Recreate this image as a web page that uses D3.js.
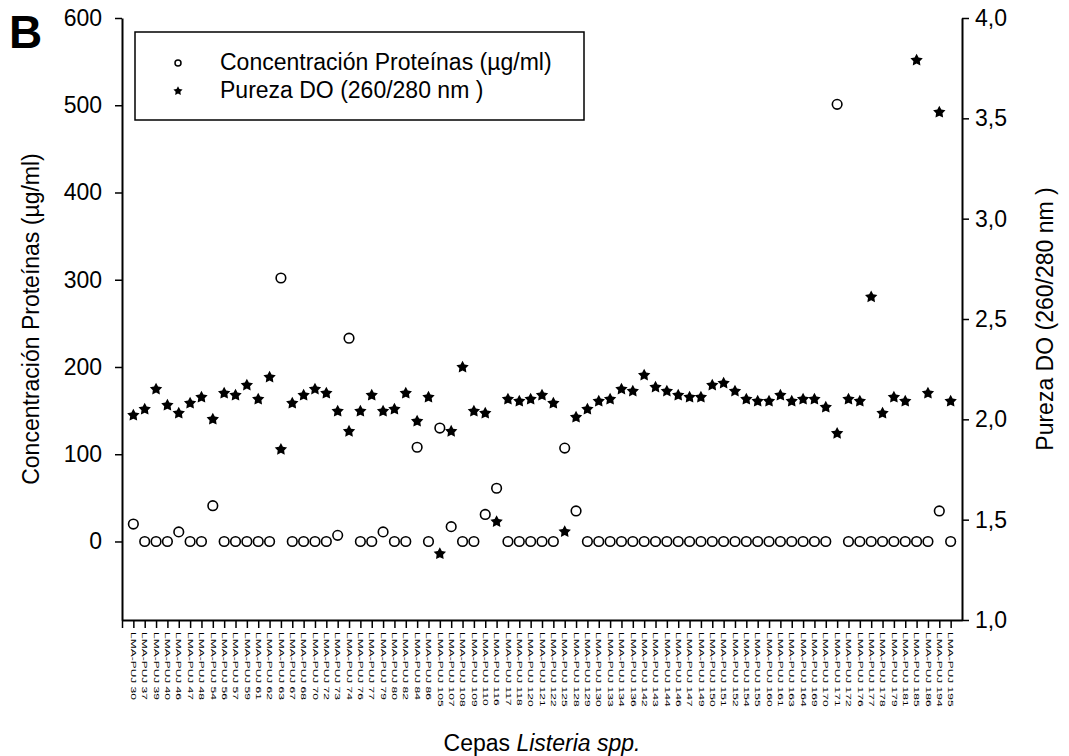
<!DOCTYPE html>
<html>
<head>
<meta charset="utf-8">
<script src="https://cdn.jsdelivr.net/npm/d3@7"></script>
<style>
  body { margin: 0; background: #fff; }
  text { font-family: Arial, "Liberation Sans", sans-serif; fill: #000; }
</style>
</head>
<body>
<svg id="chart" width="1069" height="756"></svg>
<script>
// strain codes (LMA-PUJ xx)
const strains = ["30","37","39","40","46","47","48","54","56","57","59","61","62","63","67","68","70","72","73","74",
  "76","77","79","80","82","84","86","105","107","108","109","110","116","117","118","120","121","122","125","128",
  "129","130","133","134","136","142","143","144","146","147","149","150","151","152","154","155","160","161","163","164",
  "169","170","171","172","176","177","178","179","181","185","186","194","195"];

// protein concentration (µg/ml), left axis
const proteina = [20,0,0,0,11,0,0,41,0,0,0,0,0,302,0,0,0,0,7,233,
  0,0,11,0,0,108,0,130,17,0,0,31,61,0,0,0,0,0,107,35,
  0,0,0,0,0,0,0,0,0,0,0,0,0,0,0,0,0,0,0,0,
  0,0,501,0,0,0,0,0,0,0,0,35,0];

// purity OD 260/280, right axis
const pureza = [2.02,2.05,2.15,2.07,2.03,2.08,2.11,2.00,2.13,2.12,2.17,2.10,2.21,1.85,2.08,2.12,2.15,2.13,2.04,1.94,
  2.04,2.12,2.04,2.05,2.13,1.99,2.11,1.33,1.94,2.26,2.04,2.03,1.49,2.10,2.09,2.10,2.12,2.08,1.44,2.01,
  2.05,2.09,2.10,2.15,2.14,2.22,2.16,2.14,2.12,2.11,2.11,2.17,2.18,2.14,2.10,2.09,2.09,2.12,2.09,2.10,
  2.10,2.06,1.93,2.10,2.09,2.61,2.03,2.11,2.09,3.79,2.13,3.53,2.09];

const leftTicks = [0,100,200,300,400,500,600];
const rightTicks = [1.0,1.5,2.0,2.5,3.0,3.5,4.0];

const svg = d3.select("#chart"),
  margin = { top: 18, right: 107, bottom: 136, left: 122 },
  width = +svg.attr("width") - margin.left - margin.right,
  height = +svg.attr("height") - margin.top - margin.bottom;

const g = svg.append("g").attr("transform", `translate(${margin.left},${margin.top})`);

const x = d3.scaleLinear().domain([0, strains.length + 1]).range([0, width]);
const yL = d3.scaleLinear().domain([-90, 600]).range([height, 0]);
const yR = d3.scaleLinear().domain([1, 4]).range([height, 0]);

const fontSize = "23px";

// fat five-point star
function star(R) {
  return d3.lineRadial().curve(d3.curveLinearClosed)(
    d3.range(10).map(k => [k * Math.PI / 5, k % 2 ? R * 0.52 : R])
  );
}

// axes
const axL = g.append("g").call(d3.axisLeft(yL).tickValues(leftTicks).tickSize(7).tickSizeOuter(0).tickPadding(13));
const axR = g.append("g").attr("transform", `translate(${width},0)`)
  .call(d3.axisRight(yR).tickValues(rightTicks).tickSize(7).tickSizeOuter(0).tickPadding(6)
    .tickFormat(d => d3.format(".1f")(d).replace(".", ",")));
const axB = g.append("g").attr("transform", `translate(0,${height})`)
  .call(d3.axisBottom(x).tickValues(d3.range(0, strains.length + 1)).tickSize(8).tickSizeOuter(0)
    .tickFormat(i => i === 0 ? "" : "LMA-PUJ " + strains[i - 1]));

[axL, axR, axB].forEach(a => {
  a.select(".domain").attr("stroke", "#000").attr("stroke-width", 2);
  a.selectAll(".tick line").attr("stroke", "#000").attr("stroke-width", 1.5);
});
axL.selectAll("text").attr("font-size", fontSize).attr("font-family", null);
axR.selectAll("text").attr("font-size", fontSize).attr("font-family", null);
axB.selectAll("text")
  .attr("font-size", "8px").attr("font-family", null)
  .attr("x", 0).attr("y", 0).attr("dy", "0.35em")
  .attr("text-anchor", "start")
  .attr("transform", "translate(0,12) rotate(90) scale(1.5,1)");
svg.selectAll(".domain").attr("fill", "none");

// data marks
g.selectAll("circle.prot")
  .data(proteina)
  .enter()
  .append("circle")
  .attr("class", "prot")
  .attr("cx", (d, i) => x(i + 1))
  .attr("cy", d => yL(d))
  .attr("r", 4.8)
  .attr("fill", "#fff")
  .attr("stroke", "#000")
  .attr("stroke-width", 1.6);

g.selectAll("path.pur")
  .data(pureza)
  .enter()
  .append("path")
  .attr("class", "pur")
  .attr("d", star(6.5))
  .attr("transform", (d, i) => `translate(${x(i + 1)},${yR(d)})`)
  .attr("fill", "#000");

// legend
svg.append("rect")
  .attr("x", 135).attr("y", 32).attr("width", 449).attr("height", 88)
  .attr("fill", "#fff").attr("stroke", "#000").attr("stroke-width", 1.5);
svg.append("circle").attr("cx", 178).attr("cy", 63).attr("r", 3)
  .attr("fill", "#fff").attr("stroke", "#000").attr("stroke-width", 1.5);
svg.append("path").attr("d", star(4.8)).attr("transform", "translate(178,91)").attr("fill", "#000");
svg.append("text").attr("x", 220).attr("y", 70).attr("font-size", fontSize)
  .text("Concentración Proteínas (µg/ml)");
svg.append("text").attr("x", 220).attr("y", 98).attr("font-size", fontSize)
  .text("Pureza DO (260/280 nm )");

// titles
svg.append("text")
  .attr("x", 9).attr("y", 48)
  .attr("font-size", "46px").attr("font-weight", "bold")
  .text("B");

svg.append("text")
  .attr("transform", `translate(39,${margin.top + height / 2}) rotate(-90)`)
  .attr("text-anchor", "middle")
  .attr("font-size", fontSize)
  .text("Concentración Proteínas (µg/ml)");

svg.append("text")
  .attr("transform", `translate(1053,${margin.top + height / 2}) rotate(-90)`)
  .attr("text-anchor", "middle")
  .attr("font-size", fontSize)
  .text("Pureza DO (260/280 nm )");

const xt = svg.append("text")
  .attr("x", margin.left + width / 2).attr("y", 751)
  .attr("text-anchor", "middle")
  .attr("font-size", fontSize);
xt.append("tspan").text("Cepas ");
xt.append("tspan").attr("font-style", "italic").text("Listeria spp.");
</script>
</body>
</html>
